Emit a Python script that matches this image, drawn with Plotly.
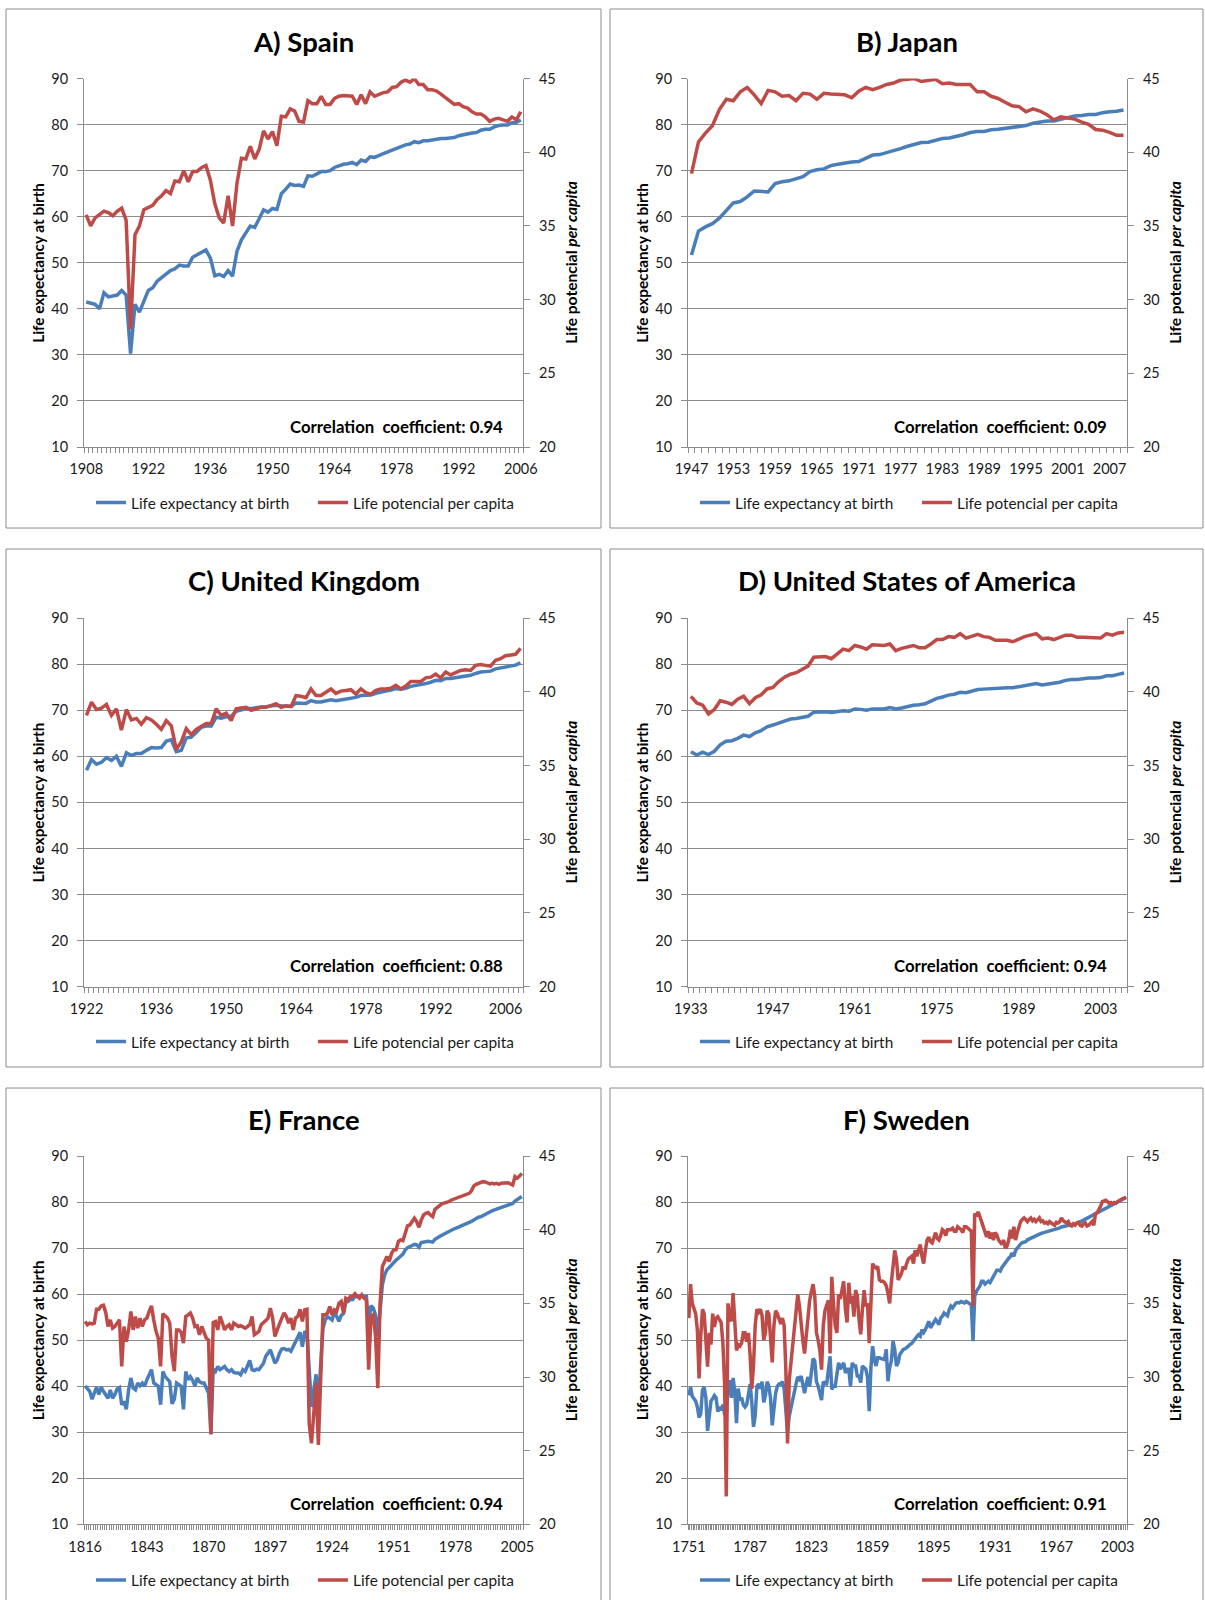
import plotly.graph_objects as go

# ------------------------------------------------------------------ data
spain_start, spain_end = 1908, 2006
spain_le = [41.5, 41.2, 41.0, 40.0, 43.5, 42.6, 42.8, 43.0, 44.0, 43.0,
            30.3, 41.0, 39.3, 41.8, 44.0, 44.6, 46.0, 46.8, 47.5, 48.3,
            48.7, 49.5, 49.3, 49.3, 51.2, 51.7, 52.3, 52.8, 51.0, 47.2,
            47.5, 47.0, 48.3, 47.1, 52.5, 55.0, 56.5, 58.0, 57.7, 59.5,
            61.5, 61.0, 61.8, 61.6, 65.0, 66.0, 67.1, 66.8, 66.9, 66.6,
            68.9, 68.8, 69.3, 69.8, 69.8, 70.0, 70.7, 71.1, 71.4, 71.5,
            71.8, 71.3, 72.3, 72.0, 73.0, 72.9, 73.4, 73.7, 74.1, 74.5,
            74.7, 75.3, 75.6, 75.8, 76.3, 76.1, 76.5, 76.5, 76.7, 76.9,
            77.0, 77.0, 77.1, 77.2, 77.6, 77.8, 78.1, 78.2, 78.3, 78.8,
            79.0, 79.0, 79.5, 79.8, 79.9, 79.9, 80.4, 80.5, 81.0]
spain_lp = [35.75, 35.0, 35.55, 35.8, 36.0, 35.9, 35.7, 36.0, 36.2, 35.4,
            28.0, 34.4, 35.0, 36.1, 36.25, 36.4, 36.8, 37.05, 37.4, 37.2,
            38.05, 38.0, 38.75, 38.0, 38.7, 38.7, 38.95, 39.1, 38.1, 36.5,
            35.55, 35.2, 37.05, 35.0, 37.9, 39.6, 39.55, 40.4, 39.55, 40.2,
            41.45, 40.9, 41.4, 40.45, 42.45, 42.4, 42.95, 42.8, 42.1, 42.05,
            43.5, 43.3, 43.3, 43.8, 43.25, 43.25, 43.65, 43.8, 43.85, 43.8,
            43.8, 43.25, 43.9, 43.3, 44.1, 43.8, 43.95, 44.05, 44.1, 44.4,
            44.45, 44.75, 44.9, 44.75, 45.0, 44.6, 44.6, 44.25, 44.25, 44.15,
            43.95, 43.7, 43.5, 43.25, 43.3, 43.1, 43.0, 42.75, 42.6, 42.6,
            42.4, 42.1, 42.25, 42.3, 42.2, 42.1, 42.4, 42.2, 42.75]
spain_ticks = [1908, 1922, 1936, 1950, 1964, 1978, 1992, 2006]

japan_start, japan_end = 1947, 2009
japan_le = [51.7, 56.9, 57.8, 58.5, 59.7, 61.3, 63.0, 63.3, 64.3, 65.6,
            65.5, 65.4, 67.2, 67.6, 67.8, 68.3, 68.7, 69.8, 70.2, 70.4,
            71.1, 71.4, 71.7, 71.9, 72.0, 72.8, 73.4, 73.5, 73.9, 74.4,
            74.8, 75.3, 75.7, 76.1, 76.2, 76.6, 77.0, 77.1, 77.4, 77.8,
            78.3, 78.5, 78.5, 78.9, 79.0, 79.2, 79.3, 79.6, 79.8, 80.3,
            80.6, 80.8, 80.8, 81.2, 81.6, 81.9, 82.0, 82.2, 82.2, 82.6,
            82.8, 82.9, 83.2]
japan_lp = [38.55, 40.7, 41.3, 41.8, 42.9, 43.6, 43.5, 44.1, 44.4, 43.9,
            43.3, 44.2, 44.1, 43.8, 43.85, 43.5, 44.0, 43.95, 43.6, 44.0,
            43.95, 43.9, 43.9, 43.7, 44.15, 44.4, 44.25, 44.4, 44.6, 44.7,
            44.9, 44.95, 45.0, 44.8, 44.85, 44.95, 44.65, 44.7, 44.6, 44.6,
            44.6, 44.1, 44.1, 43.8, 43.65, 43.4, 43.15, 43.1, 42.75, 42.95,
            42.8, 42.55, 42.2, 42.4, 42.35, 42.25, 42.05, 41.9, 41.55, 41.5,
            41.35, 41.15, 41.15]
japan_ticks = [1947, 1953, 1959, 1965, 1971, 1977, 1983, 1989, 1995, 2001, 2007]

uk_start, uk_end = 1922, 2009
uk_le = [57.0, 59.3, 58.3, 58.7, 59.7, 59.1, 60.0, 57.8, 60.8, 60.2,
         60.6, 60.6, 61.3, 61.9, 61.8, 61.9, 63.3, 63.6, 61.0, 61.3,
         64.0, 64.2, 65.2, 66.3, 66.6, 66.6, 68.5, 68.3, 68.6, 68.7,
         69.8, 70.1, 70.4, 70.4, 70.6, 70.7, 70.8, 70.9, 71.1, 71.0,
         70.9, 70.9, 71.6, 71.6, 71.5, 72.1, 71.8, 71.8, 72.0, 72.3,
         72.1, 72.3, 72.5, 72.7, 72.8, 73.2, 73.2, 73.3, 73.7, 74.0,
         74.2, 74.4, 74.7, 74.6, 74.8, 75.2, 75.4, 75.5, 75.8, 76.1,
         76.5, 76.4, 76.9, 76.9, 77.1, 77.3, 77.5, 77.6, 78.0, 78.3,
         78.4, 78.5, 79.0, 79.2, 79.5, 79.7, 79.8, 80.3]
uk_lp = [38.4, 39.3, 38.8, 38.9, 39.15, 38.4, 38.85, 37.4, 38.8, 38.1,
         38.2, 37.8, 38.25, 38.1, 37.8, 37.45, 38.05, 37.7, 36.1, 36.6,
         37.5, 37.1, 37.45, 37.65, 37.85, 37.85, 38.85, 38.4, 38.55, 38.05,
         38.85, 38.9, 38.95, 38.75, 38.85, 38.95, 38.95, 39.05, 39.2, 38.95,
         39.05, 39.0, 39.75, 39.7, 39.6, 40.2, 39.75, 39.75, 39.95, 40.2,
         39.9, 40.05, 40.1, 40.15, 39.85, 40.2, 39.95, 39.85, 40.1, 40.2,
         40.2, 40.25, 40.45, 40.2, 40.4, 40.7, 40.7, 40.7, 40.95, 41.0,
         41.2, 40.95, 41.35, 41.15, 41.3, 41.45, 41.5, 41.45, 41.8, 41.85,
         41.8, 41.75, 42.15, 42.25, 42.45, 42.5, 42.55, 42.95]
uk_ticks = [1922, 1936, 1950, 1964, 1978, 1992, 2006]

usa_start, usa_end = 1933, 2007
usa_le = [61.0, 60.3, 60.9, 60.4, 61.1, 62.5, 63.3, 63.4, 63.9, 64.6,
          64.3, 65.1, 65.6, 66.4, 66.8, 67.3, 67.7, 68.1, 68.2, 68.4,
          68.7, 69.6, 69.6, 69.7, 69.5, 69.7, 69.9, 69.8, 70.3, 70.2,
          70.0, 70.3, 70.3, 70.3, 70.6, 70.3, 70.5, 70.8, 71.1, 71.2,
          71.4, 72.0, 72.6, 72.9, 73.3, 73.5, 73.9, 73.8, 74.1, 74.5,
          74.6, 74.7, 74.7, 74.8, 74.9, 74.9, 75.1, 75.4, 75.5, 75.8,
          75.5, 75.7, 75.8, 76.1, 76.5, 76.7, 76.7, 76.9, 77.0, 77.0,
          77.1, 77.5, 77.5, 77.8, 78.1]
usa_lp = [39.7, 39.25, 39.1, 38.5, 38.8, 39.4, 39.3, 39.15, 39.5, 39.7,
          39.2, 39.6, 39.8, 40.2, 40.3, 40.7, 41.0, 41.2, 41.3, 41.55,
          41.75, 42.35, 42.35, 42.4, 42.25, 42.6, 42.9, 42.8, 43.15, 43.05,
          42.9, 43.2, 43.2, 43.15, 43.25, 42.8, 42.95, 43.05, 43.15, 43.0,
          43.0, 43.25, 43.55, 43.55, 43.75, 43.7, 43.95, 43.65, 43.8, 43.9,
          43.75, 43.7, 43.5, 43.5, 43.5, 43.4, 43.6, 43.75, 43.85, 43.95,
          43.6, 43.65, 43.55, 43.7, 43.85, 43.85, 43.7, 43.7, 43.7, 43.65,
          43.65, 43.95, 43.85, 44.0, 44.05]
usa_ticks = [1933, 1947, 1961, 1975, 1989, 2003]

france_start, france_end = 1816, 2007
france_le = [40.1, 39.6, 38.9, 37.2, 38.7, 39.8, 38.2, 39.8, 38.9, 38.2,
             37.4, 39.2, 37.4, 38.2, 39.4, 39.7, 36.0, 36.7, 35.0, 39.2,
             41.8, 39.6, 39.2, 40.7, 40.1, 40.7, 40.0, 41.4, 42.5, 43.6,
             40.7, 40.3, 40.0, 36.0, 43.2, 42.1, 41.4, 41.0, 36.2, 37.2,
             40.7, 40.3, 40.0, 35.0, 43.2, 41.4, 42.1, 41.3, 40.0, 41.8,
             41.0, 40.7, 40.7, 39.6, 38.5, 29.7, 43.7, 43.2, 44.3, 43.6,
             43.9, 44.3, 43.6, 43.2, 43.6, 43.0, 42.9, 42.9, 42.5, 43.6,
             43.2, 44.4, 45.6, 43.6, 43.4, 43.7, 43.6, 44.3, 45.0, 46.5,
             47.2, 47.9, 46.5, 45.0, 45.7, 47.2, 48.1, 48.2, 47.9, 48.0,
             47.6, 48.6, 49.7, 50.8, 51.7, 48.6, 51.7, 51.9, 44.0, 35.5,
             39.0, 42.6, 36.5, 44.0, 52.5, 54.4, 55.1, 54.8, 54.4, 56.2,
             55.1, 54.1, 55.4, 55.8, 58.2, 58.4, 58.9, 58.8, 59.5, 59.5,
             59.5, 59.6, 59.4, 59.5, 53.0, 57.5, 57.0, 55.5, 51.0, 56.0,
             62.0, 64.2, 65.3, 65.8, 66.4, 66.9, 67.4, 67.8, 68.3, 68.7,
             69.6, 70.1, 70.3, 70.6, 70.8, 70.7, 70.2, 71.2, 71.3, 71.4,
             71.5, 71.4, 71.3, 71.9, 72.3, 72.5, 72.8, 73.1, 73.2, 73.5,
             73.8, 74.1, 74.3, 74.5, 74.7, 74.8, 75.0, 75.2, 75.5, 75.8,
             76.1, 76.5, 76.7, 76.8, 77.1, 77.3, 77.6, 77.8, 78.1, 78.3,
             78.5, 78.6, 78.9, 79.0, 79.2, 79.4, 79.7, 79.7, 80.2, 80.5,
             80.7, 81.2]
france_lp = [33.77, 33.55, 33.66, 33.6, 33.66, 34.6, 34.6, 34.83, 34.88, 34.38,
             33.43, 33.88, 33.32, 33.43, 33.66, 33.88, 30.72, 33.43, 32.4, 33.2,
             34.45, 33.2, 34.11, 33.32, 34.0, 33.43, 33.88, 34.0, 34.45, 34.83,
             33.88, 33.1, 32.64, 30.72, 34.3, 34.11, 34.0, 33.66, 31.4, 30.4,
             33.2, 33.2, 33.03, 32.3, 34.11, 34.22, 34.34, 34.0, 33.43, 33.48,
             32.87, 33.43, 33.1, 32.64, 32.5, 26.1, 33.7, 33.77, 33.2, 34.11,
             33.7, 33.2, 33.43, 33.55, 33.2, 33.66, 33.55, 33.43, 33.48, 33.43,
             33.32, 33.43, 33.55, 34.11, 32.87, 32.98, 33.1, 33.55, 33.66, 33.84,
             34.0, 34.67, 34.0, 32.75, 33.2, 33.66, 34.0, 34.34, 34.11, 33.66,
             34.0, 33.2, 34.0, 34.11, 34.6, 33.77, 34.56, 34.6, 26.8, 25.5,
             27.5, 29.6, 25.4, 29.5, 34.22, 34.22, 34.34, 34.79, 34.22, 34.56,
             34.45, 35.0, 35.13, 34.34, 35.35, 35.24, 35.47, 35.47, 35.65, 35.47,
             35.35, 35.58, 35.35, 35.24, 30.5, 34.11, 34.22, 32.8, 29.25, 35.0,
             37.5, 37.84, 38.18, 37.84, 38.4, 38.63, 38.63, 39.2, 39.3, 39.26,
             39.76, 40.26, 40.32, 40.55, 40.78, 40.55, 40.16, 40.66, 41.0, 41.11,
             41.16, 41.0, 40.89, 41.38, 41.52, 41.61, 41.75, 41.8, 41.84, 41.9,
             42.0, 42.06, 42.13, 42.2, 42.24, 42.29, 42.36, 42.42, 42.47, 42.65,
             42.97, 43.08, 43.15, 43.19, 43.26, 43.24, 43.19, 43.1, 43.15, 43.1,
             43.15, 43.08, 43.15, 43.17, 43.15, 43.19, 43.1, 43.03, 43.6, 43.5,
             43.64, 43.82]
france_ticks = [1816, 1843, 1870, 1897, 1924, 1951, 1978, 2005]

sweden_start, sweden_end = 1751, 2008
sweden_le = [38.0, 39.8, 37.8, 37.2, 36.8, 35.5, 33.2, 34.0, 39.2, 39.8,
             37.5, 30.3, 33.5, 36.8, 37.3, 38.0, 37.5, 34.5, 35.5, 34.8,
             36.0, 34.0, 33.5, 40.0, 41.3, 37.5, 41.8, 39.0, 32.0, 39.5,
             37.0, 37.5, 36.0, 35.5, 36.0, 38.5, 40.5, 36.5, 31.2, 33.5,
             40.0, 40.5, 39.5, 41.0, 36.5, 38.0, 41.0, 40.0, 37.5, 31.5,
             36.0, 38.5, 40.0, 40.5, 40.5, 41.0, 39.5, 35.0, 30.0, 33.5,
             35.5, 37.5, 39.0, 40.5, 42.0, 41.5, 42.2, 40.0, 38.5, 40.5,
             42.0, 40.0, 43.3, 46.0, 45.5, 41.0, 40.0, 38.5, 37.0, 41.0,
             40.5, 40.5, 43.0, 46.5, 39.3, 40.0, 40.0, 42.5, 45.1, 43.7,
             44.5, 45.1, 42.9, 43.7, 43.7, 40.0, 45.1, 44.4, 44.4, 42.2,
             42.2, 40.8, 44.4, 44.0, 43.7, 42.0, 34.6, 44.0, 48.7, 45.8,
             44.4, 46.2, 46.2, 46.0, 45.8, 45.8, 48.0, 41.1, 44.0, 45.5,
             49.8, 48.0, 44.4, 45.1, 46.9, 47.5, 48.0, 48.1, 48.3, 48.7,
             49.1, 49.3, 49.8, 50.5, 50.8, 51.2, 50.9, 52.3, 51.7, 52.3,
             53.4, 54.1, 52.7, 53.2, 53.8, 54.5, 54.0, 53.4, 54.8, 55.2,
             55.9, 55.6, 55.3, 56.6, 57.4, 57.0, 57.7, 58.1, 58.2, 58.1,
             58.4, 58.2, 58.1, 58.4, 58.1, 57.9, 57.7, 49.8, 59.5, 60.6,
             61.2, 61.7, 62.8, 62.8, 62.2, 62.4, 62.8, 62.5, 63.2, 63.9,
             64.5, 65.2, 65.2, 65.0, 65.8, 66.4, 66.8, 67.3, 67.8, 68.2,
             68.9, 68.2, 69.5, 70.0, 70.6, 70.9, 71.2, 71.3, 71.4, 71.8,
             72.0, 72.2, 72.4, 72.6, 72.7, 72.9, 73.0, 73.2, 73.3, 73.4,
             73.5, 73.6, 73.7, 73.9, 74.0, 74.1, 74.2, 74.3, 74.4, 74.6,
             74.7, 74.8, 74.9, 75.0, 75.0, 75.1, 75.1, 75.2, 75.4, 75.5,
             75.7, 75.9, 76.1, 76.3, 76.5, 76.7, 76.9, 77.1, 77.2, 77.4,
             77.6, 77.8, 78.0, 78.2, 78.4, 78.6, 78.8, 79.0, 79.2, 79.5,
             79.7, 79.9, 80.1, 80.3, 80.4, 80.5, 80.7, 81.0]
sweden_lp = [34.0, 36.3, 35.0, 34.7, 34.3, 33.2, 29.9, 32.8, 34.6, 34.3,
             32.8, 30.7, 33.0, 32.2, 34.3, 33.4, 34.0, 34.1, 33.9, 33.7,
             32.3, 29.6, 21.9, 35.0, 34.0, 33.8, 35.7, 33.7, 31.8, 32.2,
             32.1, 32.3, 33.0, 33.0, 32.4, 33.0, 31.5, 29.2, 30.8, 33.5,
             34.6, 34.4, 34.6, 34.2, 32.5, 33.0, 34.5, 34.3, 32.8, 31.0,
             33.5, 34.5, 34.3, 34.0, 33.6, 34.0, 33.5, 30.5, 25.5, 29.8,
             31.0, 32.5, 33.5, 34.5, 35.6, 34.8, 33.5, 32.5, 31.6, 33.0,
             34.0, 35.2, 35.8, 36.3, 35.5, 33.0, 32.5, 31.8, 30.5, 33.5,
             34.5, 34.8, 35.2, 31.6, 36.8, 35.0, 33.5, 33.0, 35.6, 35.3,
             35.9, 36.5, 34.6, 33.7, 36.4, 35.0, 35.5, 34.1, 35.9, 35.5,
             33.9, 32.9, 34.6, 35.9, 34.8, 35.0, 32.3, 35.25, 37.7, 37.5,
             37.4, 37.5, 36.6, 36.5, 36.5, 36.4, 36.2, 35.7, 35.0, 36.4,
             37.5, 38.6, 38.0, 36.6, 36.8, 37.05, 37.5, 37.3, 37.7, 38.0,
             38.1, 38.2, 37.7, 38.6, 38.2, 38.6, 39.0, 38.2, 37.7, 38.6,
             39.3, 39.5, 39.2, 39.1, 39.4, 39.8, 39.4, 39.3, 39.6, 40.0,
             39.9, 39.6, 40.0, 40.0, 40.0, 40.1, 39.9, 39.9, 40.2, 40.1,
             40.0, 39.8, 40.2, 40.2, 40.1, 40.0, 39.9, 34.8, 41.1, 40.9,
             41.2, 40.9, 40.55, 40.2, 39.9, 39.5, 39.9, 39.4, 39.8, 39.3,
             39.8, 39.65, 39.3, 39.1, 39.0, 39.3, 38.75, 38.9, 39.3, 40.0,
             39.4, 40.2, 39.3, 39.8, 40.2, 40.55, 40.7, 40.8, 40.7, 40.55,
             40.7, 40.8, 40.6, 40.7, 40.55, 40.7, 40.8, 40.55, 40.6, 40.45,
             40.5, 40.4, 40.55, 40.45, 40.4, 40.3, 40.5, 40.45, 40.55, 40.8,
             40.6, 40.55, 40.45, 40.55, 40.3, 40.25, 40.4, 40.3, 40.45, 40.5,
             40.3, 40.25, 40.4, 40.45, 40.25, 40.3, 40.45, 40.55, 40.3, 41.1,
             41.15, 41.35, 41.6, 41.9, 41.95, 42.0, 41.9, 41.8, 41.85, 41.75,
             41.85, 41.8, 41.9, 42.0, 42.05, 42.1, 42.15, 42.2]
sweden_ticks = [1751, 1787, 1823, 1859, 1895, 1931, 1967, 2003]

titles = ["A) Spain", "B) Japan", "C) United Kingdom", "D) United States of America",
          "E) France", "F) Sweden"]
correlations = ["0.94", "0.09", "0.88", "0.94", "0.94", "0.91"]
le_name = "Life expectancy at birth"
lp_name = "Life potencial per capita"

# ------------------------------------------------------------------ layout constants
W, H = 1205, 1600
BLUE = "#4a7ebb"
RED = "#be4b48"
GRID = "#8c8c8c"
FONT = "Lato"
TXT = "#1a1a1a"

col_x = [(84, 523), (688, 1127)]
box_x = [(6, 601), (610, 1203)]
row_y = [(78.6, 447.0), (618.2, 986.6), (1156.0, 1524.4)]
box_y = [(9, 528), (549, 1067), (1088, 1640)]
title_y = [41, 580.5, 1119]
legend_y = [503, 1042, 1580.5]
legend_x = [91, 695]
ltitle_x = [38, 642]
rtitle_x = [571, 1175]


def px(x):
    return x / W


def py(y):
    return 1 - y / H


series = [
    (spain_start, spain_end, spain_le, spain_lp, spain_ticks),
    (japan_start, japan_end, japan_le, japan_lp, japan_ticks),
    (uk_start, uk_end, uk_le, uk_lp, uk_ticks),
    (usa_start, usa_end, usa_le, usa_lp, usa_ticks),
    (france_start, france_end, france_le, france_lp, france_ticks),
    (sweden_start, sweden_end, sweden_le, sweden_lp, sweden_ticks),
]

fig = go.Figure()
layout = {}
shapes = []
annotations = []
tickfont = dict(family=FONT, size=14.5, color=TXT)

for i, (y0, y1, le, lp, ticks) in enumerate(series):
    r, c = divmod(i, 2)
    years = list(range(y0, y1 + 1))
    assert len(years) == len(le) == len(lp), (titles[i], len(years), len(le), len(lp))
    xname = "x" if i == 0 else f"x{i + 1}"
    yl = "y" if i == 0 else f"y{2 * i + 1}"
    yr = f"y{2 * i + 2}"
    lg = "legend" if i == 0 else f"legend{i + 1}"

    fig.add_trace(go.Scatter(x=years, y=le, mode="lines", name=le_name,
                             line=dict(color=BLUE, width=3.5), xaxis=xname, yaxis=yl,
                             legend=lg, hoverinfo="skip"))
    fig.add_trace(go.Scatter(x=years, y=lp, mode="lines", name=lp_name,
                             line=dict(color=RED, width=3.5), xaxis=xname, yaxis=yr,
                             legend=lg, hoverinfo="skip"))

    xl, xr = col_x[c]
    yt, yb = row_y[r]
    layout["xaxis" + ("" if i == 0 else str(i + 1))] = dict(
        domain=[px(xl), px(xr)], anchor=yl, range=[y0 - 0.5, y1 + 0.5],
        tickmode="array", tickvals=ticks, ticktext=[str(t) for t in ticks],
        ticks="", showline=True, linecolor=GRID, linewidth=1, showgrid=False,
        zeroline=False, tickfont=tickfont, ticklabelstandoff=9,
        minor=dict(ticks="outside", ticklen=5, tickcolor=GRID, tickwidth=1,
                   dtick=1, tick0=0.5, showgrid=False),
        fixedrange=True)
    layout["yaxis" + ("" if i == 0 else str(2 * i + 1))] = dict(
        domain=[py(yb), py(yt)], anchor=xname, range=[10, 90], tick0=10, dtick=10,
        showgrid=True, gridcolor=GRID, gridwidth=1, showline=True, linecolor=GRID,
        ticks="outside", ticklen=6, tickcolor=GRID, zeroline=False,
        ticklabelstandoff=6, tickfont=tickfont, fixedrange=True)
    layout["yaxis" + str(2 * i + 2)] = dict(
        overlaying=yl, side="right", anchor=xname, range=[20, 45], tick0=20, dtick=5,
        showgrid=False, showline=True, linecolor=GRID, ticks="outside", ticklen=6,
        tickcolor=GRID, zeroline=False, ticklabelstandoff=6, tickfont=tickfont,
        fixedrange=True)
    layout[lg] = dict(orientation="h", x=px(legend_x[c]), xanchor="left",
                      y=py(legend_y[r]), yanchor="middle",
                      font=dict(family=FONT, size=15.4, color=TXT),
                      bgcolor="rgba(0,0,0,0)", itemwidth=30, traceorder="normal",
                      entrywidth=177, entrywidthmode="pixels")

    bx0, bx1 = box_x[c]
    by0, by1 = box_y[r]
    shapes.append(dict(type="rect", xref="paper", yref="paper",
                       x0=px(bx0), x1=px(bx1), y0=py(by1), y1=py(by0),
                       line=dict(color="#8c8c8c", width=1), fillcolor="rgba(0,0,0,0)",
                       layer="below"))
    annotations.append(dict(xref="paper", yref="paper", x=px((bx0 + bx1) / 2),
                            y=py(title_y[r]), text=f"<b>{titles[i]}</b>",
                            showarrow=False, xanchor="center", yanchor="middle",
                            font=dict(family=FONT, size=27.5, color="#000")))
    annotations.append(dict(xref="paper", yref="paper", x=px(ltitle_x[c]),
                            y=py((yt + yb) / 2), text=f"<b>{le_name}</b>",
                            textangle=-90, showarrow=False, xanchor="center",
                            yanchor="middle", font=dict(family=FONT, size=15.3, color="#000")))
    annotations.append(dict(xref="paper", yref="paper", x=px(rtitle_x[c]),
                            y=py((yt + yb) / 2),
                            text="<b>Life potencial <i>per capita</i></b>",
                            textangle=-90, showarrow=False, xanchor="center",
                            yanchor="middle", font=dict(family=FONT, size=15.6, color="#000")))
    annotations.append(dict(xref="paper", yref="paper", x=px(xr - 18), y=py(yb - 21),
                            text=f"<b>Correlation&nbsp; coefficient: {correlations[i]}</b>",
                            showarrow=False, xanchor="right", yanchor="middle",
                            font=dict(family=FONT, size=16.8, color="#000")))

layout.update(dict(width=W, height=H,
                   margin=dict(l=0, r=0, t=0, b=0, pad=0, autoexpand=False),
                   paper_bgcolor="white", plot_bgcolor="white",
                   shapes=shapes, annotations=annotations, showlegend=True,
                   font=dict(family=FONT, color=TXT)))
fig.update_layout(**layout)
fig.write_html("out.html", config={"displayModeBar": False},
               post_script="document.body.style.margin='0px';"
                           "document.body.style.overflow='hidden';")
